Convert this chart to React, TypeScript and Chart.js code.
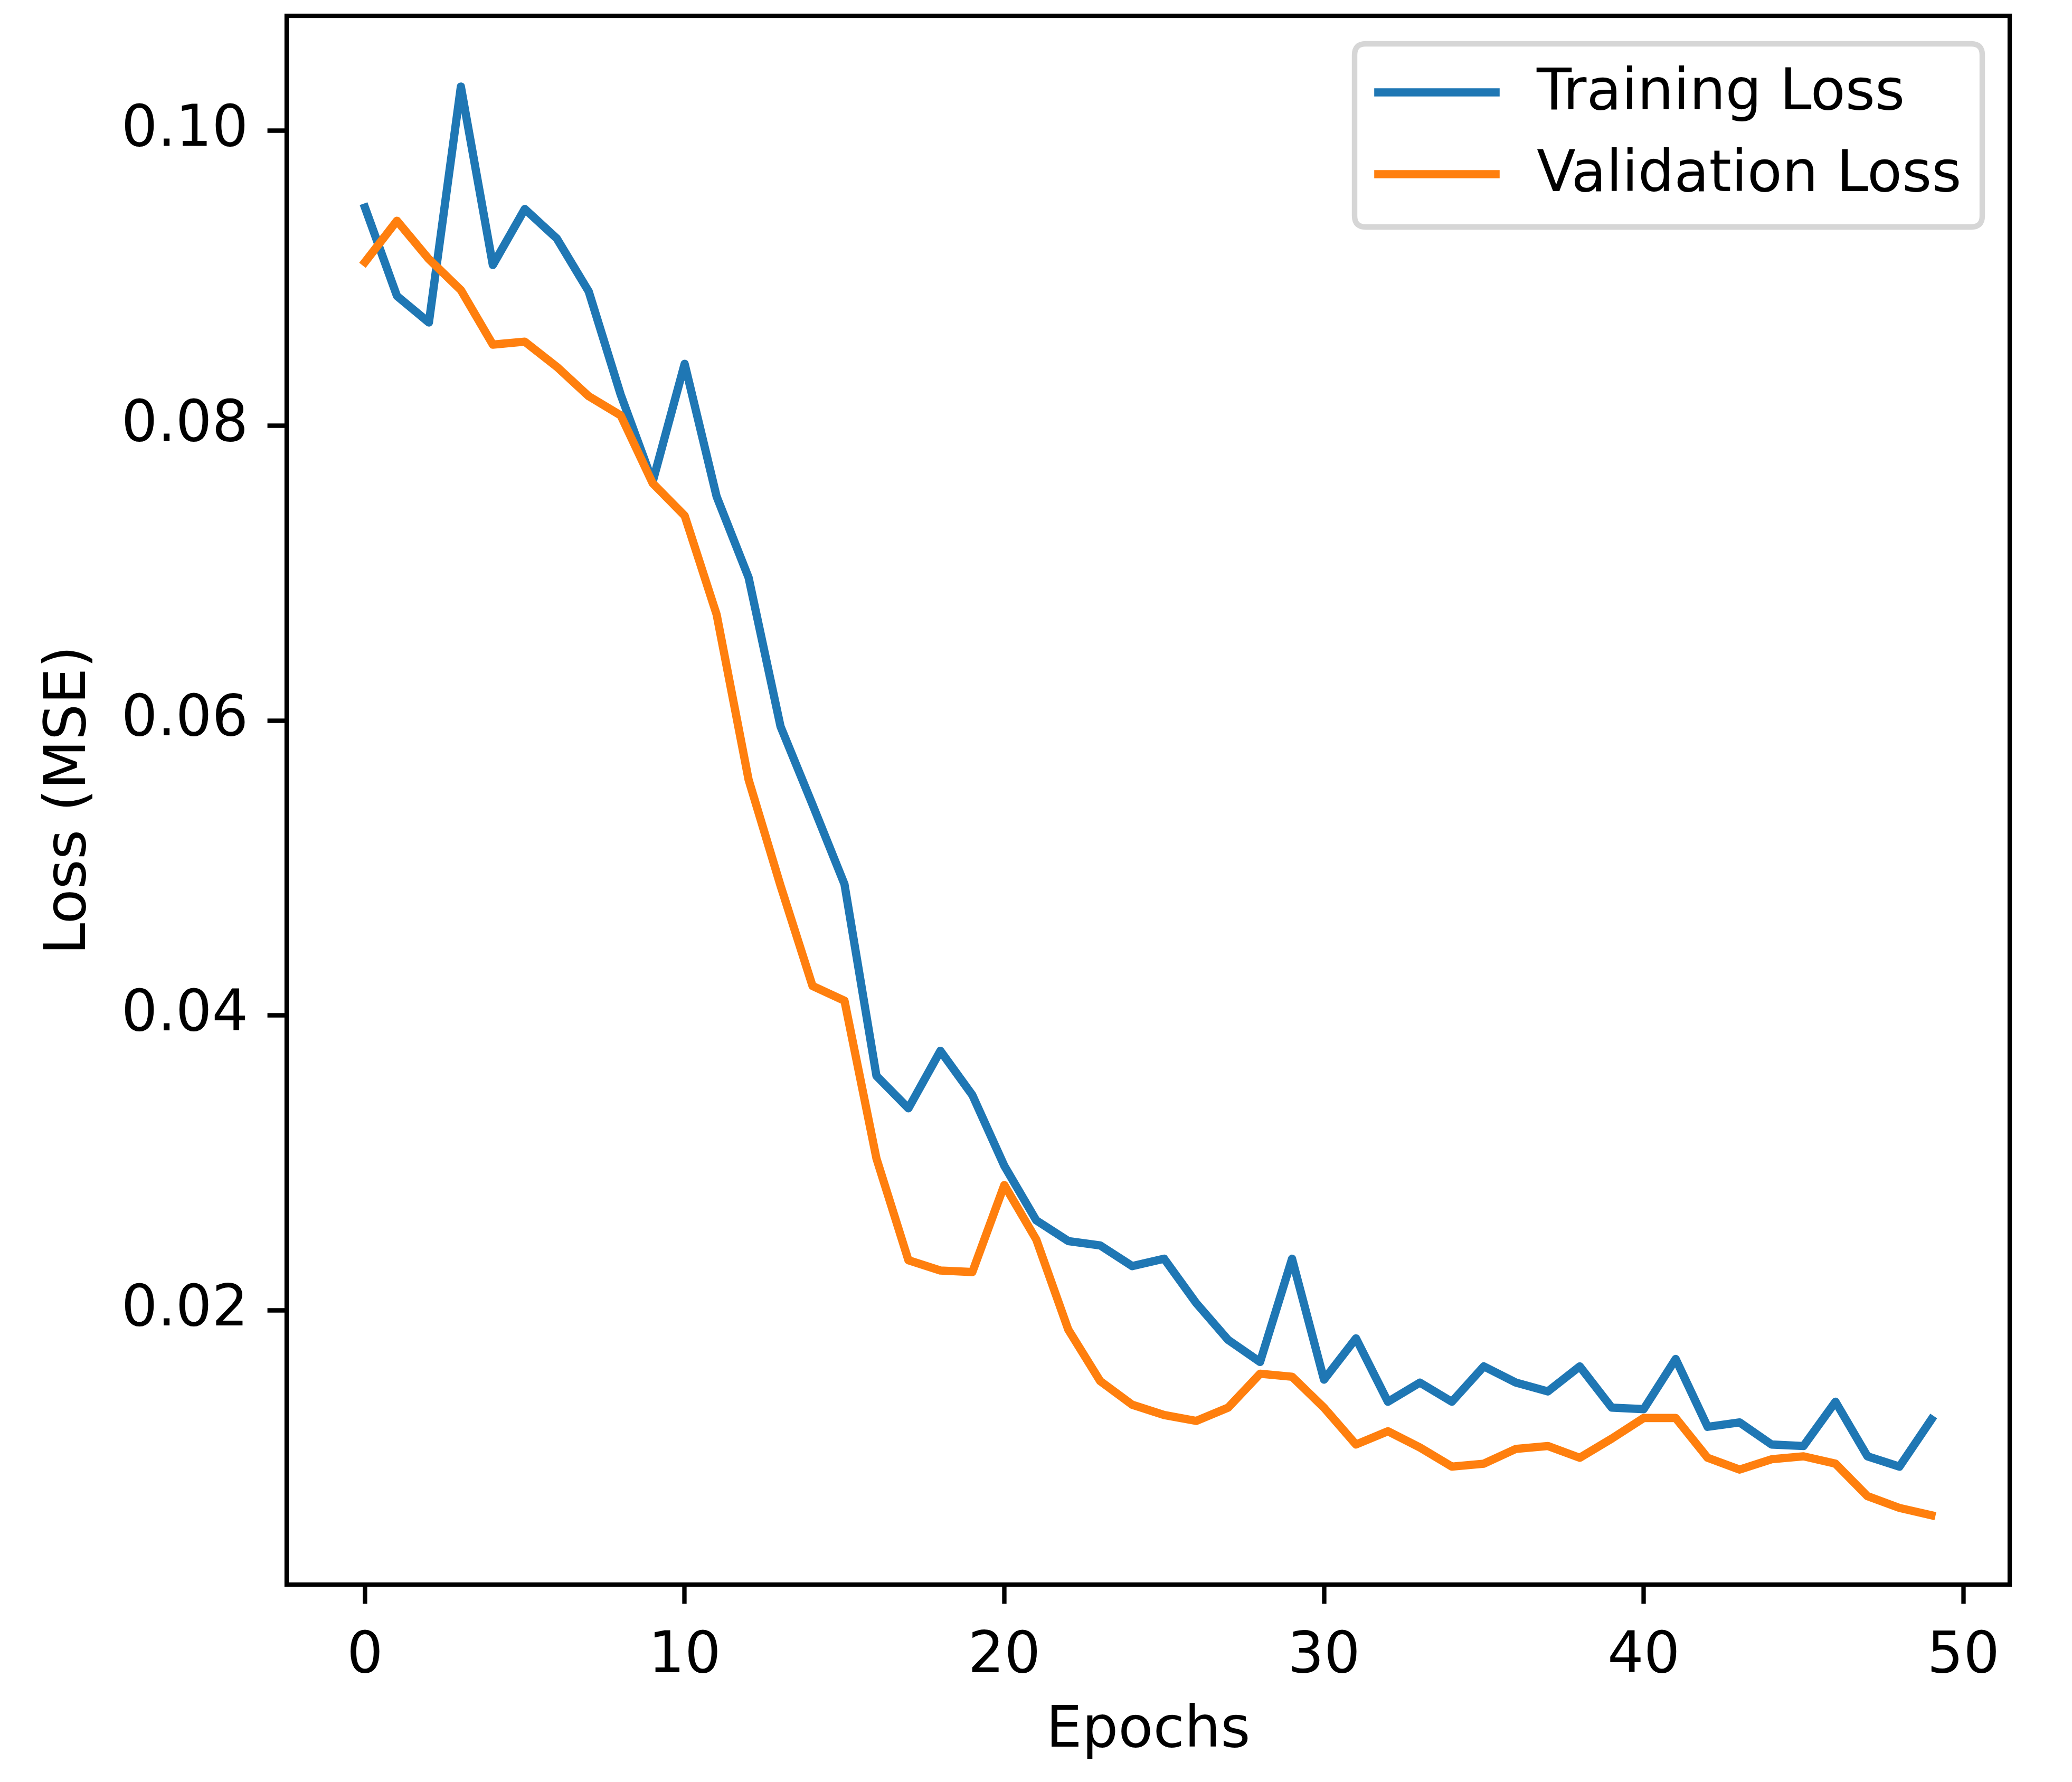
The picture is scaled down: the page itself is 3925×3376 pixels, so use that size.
import React, { useEffect, useRef } from "react";
import { Chart, registerables } from "chart.js";

Chart.register(...registerables);

const epochs = [
  0, 1, 2, 3, 4, 5, 6, 7, 8, 9, 10, 11, 12, 13, 14, 15, 16, 17, 18, 19, 20, 21, 22, 23, 24,
  25, 26, 27, 28, 29, 30, 31, 32, 33, 34, 35, 36, 37, 38, 39, 40, 41, 42, 43, 44, 45, 46, 47, 48, 49,
];

const trainingLoss = [
  0.0948, 0.0888, 0.087, 0.103, 0.0909, 0.0947, 0.0927, 0.0891, 0.0821, 0.0762,
  0.0842, 0.0752, 0.0697, 0.0596, 0.0543, 0.0489, 0.0359, 0.0337, 0.0376, 0.0346,
  0.0298, 0.0261, 0.0247, 0.0244, 0.023, 0.0235, 0.0205, 0.018, 0.0165, 0.0235,
  0.0153, 0.0181, 0.0138, 0.0151, 0.0138, 0.0162, 0.0151, 0.0145, 0.0162, 0.0134,
  0.0133, 0.0167, 0.0121, 0.0124, 0.0109, 0.0108, 0.0138, 0.0101, 0.0094, 0.0126,
];

const validationLoss = [
  0.0911, 0.0939, 0.0913, 0.0892, 0.0855, 0.0857, 0.084, 0.082, 0.0807, 0.0761,
  0.0739, 0.0672, 0.056, 0.0488, 0.042, 0.041, 0.0303, 0.0234, 0.0227, 0.0226,
  0.0285, 0.0248, 0.0187, 0.0152, 0.0136, 0.0129, 0.0125, 0.0134, 0.0157, 0.0155,
  0.0134, 0.0109, 0.0118, 0.0107, 0.0094, 0.0096, 0.0106, 0.0108, 0.01, 0.0113,
  0.0127, 0.0127, 0.01, 0.0092, 0.0099, 0.0101, 0.0096, 0.0074, 0.0066, 0.0061,
];

const xTicks = [0, 10, 20, 30, 40, 50];
const yTicks = [0.02, 0.04, 0.06, 0.08, 0.1];

const seriesNames = ["Training Loss", "Validation Loss"];
const seriesColors = ["#1f77b4", "#ff7f0e"];

const W = 3925;
const H = 3376;
const PT = 10.4;
const FONT = "'DejaVu Sans', sans-serif";
const FS = 108;

const frameAndLegend = {
  id: "frameAndLegend",
  afterDatasetsDraw(chart: any) {
    const { ctx, chartArea } = chart;
    ctx.save();
    ctx.strokeStyle = "#000";
    ctx.lineWidth = 0.8 * PT;
    ctx.lineJoin = "miter";
    ctx.strokeRect(
      chartArea.left,
      chartArea.top,
      chartArea.right - chartArea.left,
      chartArea.bottom - chartArea.top
    );
    ctx.restore();
  },
  afterDraw(chart: any) {
    const { ctx } = chart;
    const bx = 2566, by = 83, bw = 1189, bh = 347, r = 21;
    ctx.save();
    ctx.beginPath();
    ctx.moveTo(bx + r, by);
    ctx.lineTo(bx + bw - r, by);
    ctx.quadraticCurveTo(bx + bw, by, bx + bw, by + r);
    ctx.lineTo(bx + bw, by + bh - r);
    ctx.quadraticCurveTo(bx + bw, by + bh, bx + bw - r, by + bh);
    ctx.lineTo(bx + r, by + bh);
    ctx.quadraticCurveTo(bx, by + bh, bx, by + bh - r);
    ctx.lineTo(bx, by + r);
    ctx.quadraticCurveTo(bx, by, bx + r, by);
    ctx.closePath();
    ctx.fillStyle = "rgba(255,255,255,0.8)";
    ctx.fill();
    ctx.strokeStyle = "rgba(204,204,204,0.8)";
    ctx.lineWidth = 1.0 * PT;
    ctx.stroke();
    const rows = [175, 330];
    chart.data.datasets.forEach((ds: any, i: number) => {
      const y = rows[i];
      ctx.beginPath();
      ctx.moveTo(2611, y);
      ctx.lineTo(2833, y);
      ctx.strokeStyle = ds.borderColor;
      ctx.lineWidth = 1.5 * PT;
      ctx.lineCap = "square";
      ctx.stroke();
      ctx.fillStyle = "#000";
      ctx.font = `${FS}px ${FONT}`;
      ctx.textAlign = "left";
      ctx.textBaseline = "middle";
      ctx.fillText(ds.label, 2911, y + 4);
    });
    ctx.restore();
  },
};

export default function App() {
  const ref = useRef<HTMLCanvasElement | null>(null);

  useEffect(() => {
    if (!ref.current) return;
    const chart = new Chart(ref.current, {
      type: "line",
      data: {
        datasets: [
          {
            label: seriesNames[0],
            data: epochs.map((e, i) => ({ x: e, y: trainingLoss[i] })),
            borderColor: seriesColors[0],
            backgroundColor: seriesColors[0],
            borderWidth: 1.5 * PT,
            pointRadius: 0,
            tension: 0,
            borderJoinStyle: "round",
            borderCapStyle: "square",
            order: 1,
          },
          {
            label: seriesNames[1],
            data: epochs.map((e, i) => ({ x: e, y: validationLoss[i] })),
            borderColor: seriesColors[1],
            backgroundColor: seriesColors[1],
            borderWidth: 1.5 * PT,
            pointRadius: 0,
            tension: 0,
            borderJoinStyle: "round",
            borderCapStyle: "square",
            order: 0,
          },
        ],
      },
      options: {
        animation: false,
        responsive: false,
        devicePixelRatio: 1,
        layout: { padding: { left: 0, top: 30, right: W - 3807, bottom: 0 } },
        plugins: {
          legend: { display: false },
          tooltip: { enabled: false },
        },
        scales: {
          x: {
            type: "linear",
            min: -2.45,
            max: 51.45,
            afterBuildTicks: (s: any) => {
              s.ticks = xTicks.map((v) => ({ value: v }));
            },
            afterFit: (s: any) => {
              s.height = H - 3002;
              s.paddingLeft = 0;
              s.paddingRight = 0;
            },
            grid: {
              display: true,
              drawOnChartArea: false,
              drawTicks: true,
              tickLength: 3.5 * PT,
              tickWidth: 0.8 * PT,
              tickColor: "#000",
            },
            border: { display: false },
            ticks: {
              autoSkip: false,
              maxRotation: 0,
              padding: 3.5 * PT,
              color: "#000",
              font: { family: FONT, size: FS },
              callback: (v: any) => String(v),
            },
            title: {
              display: true,
              text: "Epochs",
              color: "#000",
              font: { family: FONT, size: FS },
              padding: { top: 0, bottom: 30 },
            },
          },
          y: {
            type: "linear",
            min: 0.0014,
            max: 0.1078,
            afterBuildTicks: (s: any) => {
              s.ticks = yTicks.map((v) => ({ value: v }));
            },
            afterFit: (s: any) => {
              s.width = 543;
              s.paddingTop = 0;
              s.paddingBottom = 0;
            },
            grid: {
              display: true,
              drawOnChartArea: false,
              drawTicks: true,
              tickLength: 3.5 * PT,
              tickWidth: 0.8 * PT,
              tickColor: "#000",
            },
            border: { display: false },
            ticks: {
              autoSkip: false,
              padding: 3.5 * PT,
              color: "#000",
              font: { family: FONT, size: FS },
              callback: (v: any) => Number(v).toFixed(2),
            },
            title: {
              display: true,
              text: "Loss (MSE)",
              color: "#000",
              font: { family: FONT, size: FS },
              padding: { top: 68, bottom: 0 },
            },
          },
        },
      },
      plugins: [frameAndLegend],
    });
    return () => chart.destroy();
  }, []);

  return (
    <div
      style={{
        position: "fixed",
        left: 0,
        top: 0,
        width: W,
        height: H,
        background: "#fff",
      }}
    >
      <canvas ref={ref} width={W} height={H} style={{ width: W, height: H, display: "block" }} />
    </div>
  );
}
